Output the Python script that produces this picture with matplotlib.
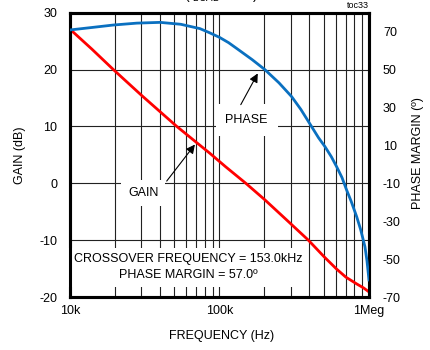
import matplotlib.pyplot as plt
from matplotlib.ticker import FixedLocator, NullFormatter

plt.rcParams['font.family'] = ['Liberation Sans', 'DejaVu Sans']
plt.rcParams['axes.unicode_minus'] = False

# gain curve (dB)
gain_freq = [10e3, 14e3, 19.5e3, 30e3, 40e3, 51.8e3, 70e3, 86e3, 110e3, 150e3,
             201e3, 280e3, 393e3, 500e3, 608e3, 700e3, 828e3, 920e3, 1e6]
gain_db = [27.1, 23.6, 20.0, 15.5, 12.6, 10.0, 7.2, 5.3, 2.9, 0.0,
           -2.9, -6.4, -10.0, -12.9, -15.1, -16.5, -17.7, -18.4, -19.1]

# phase margin curve (deg)
phase_freq = [10e3, 14e3, 19.5e3, 28e3, 40e3, 55e3, 74e3, 86e3, 100e3, 115e3,
              130e3, 165e3, 201e3, 250e3, 304e3, 350e3, 414e3, 460e3, 508e3,
              560e3, 608e3, 660e3, 709e3, 760e3, 828e3, 880e3, 940e3, 970e3, 1e6]
phase_deg = [70.9, 72.2, 73.5, 74.5, 74.9, 73.9, 71.6, 69.4, 67.0, 64.2,
             61.2, 55.3, 50.0, 43.0, 35.7, 29.0, 19.8, 14.0, 9.3,
             4.0, -1.3, -7.0, -13.6, -19.5, -27.7, -34.5, -43.5, -51.0, -61.0]

freq_ticks = [1e4, 1e5, 1e6]
freq_labels = ['10k', '100k', '1Meg']
gain_ticks = [-20, -10, 0, 10, 20, 30]
phase_ticks = [-70, -50, -30, -10, 10, 30, 50, 70]

fig = plt.figure(figsize=(4.3, 3.5), dpi=100)
ax = fig.add_axes([0.1628, 0.1514, 0.6953, 0.8123])
ax2 = ax.twinx()

ax.set_xscale('log')
ax.set_xlim(1e4, 1e6)
ax.set_ylim(-20, 30)
ax2.set_ylim(-70, 80)

ax.xaxis.set_major_locator(FixedLocator(freq_ticks))
ax.set_xticklabels(freq_labels)
minors = [m * d for d in (1e4, 1e5) for m in range(2, 10)]
ax.xaxis.set_minor_locator(FixedLocator(minors))
ax.xaxis.set_minor_formatter(NullFormatter())
ax.set_yticks(gain_ticks)
ax2.set_yticks(phase_ticks)

ax.grid(which='both', color='#222222', lw=0.8)
ax.tick_params(which='both', length=0, labelsize=9)
ax.tick_params(axis='y', pad=9)
ax.tick_params(axis='x', pad=6)
ax2.tick_params(length=0, labelsize=9, pad=10)

for a in (ax, ax2):
    for s in a.spines.values():
        s.set_linewidth(2.2)
        s.set_color('black')

ax.plot(gain_freq, gain_db, color='#ff0000', lw=2.0, zorder=4)
ax2.plot(phase_freq, phase_deg, color='#0a70c0', lw=2.0, zorder=4)

box = dict(fc='white', ec='none', pad=7)
ax.text(152e3, 11.1, 'PHASE', fontsize=9, ha='center', va='center', bbox=box, zorder=3)
ax.text(30.9e3, -1.7, 'GAIN', fontsize=9, ha='center', va='center',
        bbox=dict(fc='white', ec='none', pad=5), zorder=3)
ax.annotate('', xy=(184e3, 19.75), xytext=(136e3, 13.4),
            arrowprops=dict(arrowstyle='-|>', color='black', lw=0.8, mutation_scale=13),
            zorder=5)
ax.annotate('', xy=(70.3e3, 7.2), xytext=(43.2e3, 0.0),
            arrowprops=dict(arrowstyle='-|>', color='black', lw=0.8, mutation_scale=13),
            zorder=5)
ax.text(61.5e3, -14.8, 'CROSSOVER FREQUENCY = 153.0kHz\nPHASE MARGIN = 57.0º',
        fontsize=9, ha='center', va='center', multialignment='center',
        linespacing=1.45, bbox=dict(fc='white', ec='none', pad=4), zorder=3)

fig.text(20 / 430, 1 - 155 / 350, 'GAIN (dB)', rotation=90, fontsize=9,
         ha='center', va='center')
fig.text(418 / 430, 1 - 153 / 350, 'PHASE MARGIN (º)', rotation=90, fontsize=9,
         ha='center', va='center')
fig.text(222 / 430, 1 - 336 / 350, 'FREQUENCY (Hz)', fontsize=9,
         ha='center', va='center')
fig.text(369 / 430, 1 - 6 / 350, 'toc33', fontsize=6.5, ha='right', va='center')
# title line, cut off at the top edge as in the reference
fig.text(221 / 430, 1 - 4 / 350, '(I$_{\\mathregular{LOAD}}$ = 4A)', fontsize=10,
         ha='center', va='bottom')

fig.savefig('out.png', dpi=100)
